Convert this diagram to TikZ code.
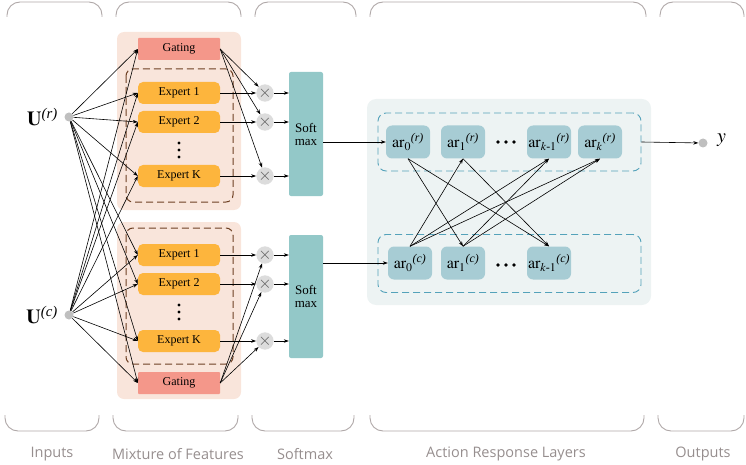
\documentclass[tikz,border=0pt]{standalone}
\usepackage{amsmath}
\usepackage{mathptmx}
\usepackage{fontspec}
\setmainfont{Liberation Serif}
\setsansfont{Open Sans}
\usetikzlibrary{arrows.meta,positioning}

\definecolor{peach}{RGB}{249,229,219}
\definecolor{gatecol}{RGB}{244,151,138}
\definecolor{expcol}{RGB}{253,181,61}
\definecolor{dashbrown}{RGB}{110,64,35}
\definecolor{multcol}{RGB}{220,220,220}
\definecolor{softcol}{RGB}{147,200,200}
\definecolor{arbg}{RGB}{237,243,243}
\definecolor{arcol}{RGB}{167,204,212}
\definecolor{tealdash}{RGB}{84,162,186}
\definecolor{bracecol}{RGB}{175,168,168}
\definecolor{captcol}{RGB}{150,142,142}

\newcommand{\supl}[1]{\text{\itshape(#1)}}

\tikzset{
  box/.style={minimum width=82pt, minimum height=22pt, inner sep=0pt,
    font=\fontsize{12}{13}\selectfont},
  gate/.style={box, fill=gatecol, rounded corners=1pt},
  expert/.style={box, fill=expcol, rounded corners=5pt},
  mult/.style={circle, fill=multcol, minimum size=17pt, inner sep=0pt,
    text=black!65, font=\fontsize{17}{17}\selectfont},
  soft/.style={fill=softcol, rounded corners=2pt, minimum width=34pt,
    inner sep=0pt, align=center, font=\fontsize{13}{13}\selectfont},
  arbox/.style={fill=arcol, rounded corners=6pt, minimum width=44pt,
    minimum height=33pt, inner sep=0pt, font=\fontsize{16}{16}\selectfont},
  ball/.style={circle, fill=black!25, minimum size=9pt, inner sep=0pt},
  frame/.style={draw=tealdash, line width=0.9pt, dash pattern=on 7pt off 4pt,
    rounded corners=8pt, minimum width=263pt, minimum height=58pt},
  link/.style={-{Stealth[length=5pt,width=3.5pt]}, line width=0.6pt},
  brace/.style={draw=bracecol, line width=0.9pt, rounded corners=13pt},
  caption/.style={font=\sffamily\fontsize{14.5}{15}\selectfont, text=captcol},
}

\begin{document}
\begin{tikzpicture}[x=1pt, y=-1pt]
  \useasboundingbox (0,0) rectangle (746,465);

  % brackets on top and bottom
  \foreach \l/\r in {7/102, 116/241, 255/356, 370/646, 660/744}
    \draw[brace] (\l,17) -- (\l,2) -- (\r,2) -- (\r,17);
  \foreach \l/\r in {5/99, 113/238, 252/354, 370/644, 658/744}
    \draw[brace] (\l,415) -- (\l,431) -- (\r,431) -- (\r,415);
  \node[caption] (capin)  at (52,454)  {Inputs};
  \node[caption] (capmof) at (178,454) {Mixture of Features};
  \node[caption] (capsm)  at (305,454) {Softmax};
  \node[caption] (capar)  at (506,454) {Action Response Layers};
  \node[caption] (capout) at (703,454) {Outputs};

  % mixture of features blocks
  \fill[peach, rounded corners=7pt] (117,32) rectangle (241,210);
  \fill[peach, rounded corners=7pt] (117,222) rectangle (241,399);
  \draw[dashbrown, line width=1pt, dash pattern=on 7pt off 4pt, rounded corners=7pt]
    (126,69) rectangle (233,202);
  \draw[dashbrown, line width=1pt, dash pattern=on 7pt off 4pt, rounded corners=7pt]
    (126,228) rectangle (233,364);

  \node[gate]   (Gr)  at (179,49)  {Gating};
  \node[expert] (Er1) at (179,93)  {Expert 1};
  \node[expert] (Er2) at (179,122) {Expert 2};
  \node[expert] (ErK) at (179,176) {Expert K};
  \node[expert] (Ec1) at (179,255) {Expert 1};
  \node[expert] (Ec2) at (179,284) {Expert 2};
  \node[expert] (EcK) at (179,341) {Expert K};
  \node[gate]   (Gc)  at (179,383) {Gating};
  \foreach \d in {-7,0,7} {
    \fill (179,150+\d) circle (1.7pt);
    \fill (179,312+\d) circle (1.7pt);
  }

  % inputs
  \node[ball] (Ur) at (69,117) {};
  \node[ball] (Uc) at (69,315) {};
  \node[left=3pt of Ur, font=\fontsize{20}{20}\selectfont] (Urlab) {$\mathbf{U}^{\supl{r}}$};
  \node[left=3pt of Uc, font=\fontsize{20}{20}\selectfont] (Uclab) {$\mathbf{U}^{\supl{c}}$};
  \foreach \t in {Gr,Er1,Er2,ErK,Ec1,Ec2,EcK,Gc} {
    \draw[link] (Ur) -- (\t.west);
    \draw[link] (Uc) -- (\t.west);
  }

  % products and softmax
  \node[soft, minimum height=124pt] (Sr) at (306,134) {Soft\\max};
  \node[soft, minimum height=123pt] (Sc) at (306,296.5) {Soft\\max};
  \node[mult] (Xr1) at (265,93)  {$\times$};
  \node[mult] (Xr2) at (265,122) {$\times$};
  \node[mult] (XrK) at (265,176) {$\times$};
  \node[mult] (Xc1) at (265,255) {$\times$};
  \node[mult] (Xc2) at (265,284) {$\times$};
  \node[mult] (XcK) at (265,341) {$\times$};
  \foreach \m in {1,2,K} {
    \draw[link] (Gr.east) -- (Xr\m);
    \draw[link] (Er\m) -- (Xr\m);
    \draw[link] (Xr\m) -- (Xr\m -| Sr.west);
    \draw[link] (Gc.east) -- (Xc\m);
    \draw[link] (Ec\m) -- (Xc\m);
    \draw[link] (Xc\m) -- (Xc\m -| Sc.west);
  }

  % action response layers
  \fill[arbg, rounded corners=9pt] (367,99) rectangle (651,305);
  \node[frame] (Fr) at (509.5,142) {};
  \node[frame] (Fc) at (509.5,263.5) {};
  \node[arbox] (ar0r)   at (408,142) {${\mathrm{ar}_0}^{\supl{r}}$};
  \node[arbox] (ar1r)   at (463,142) {${\mathrm{ar}_1}^{\supl{r}}$};
  \node[arbox] (arkm1r) at (549,142) {${\mathrm{ar}_{k\text{-}1}}^{\supl{r}}$};
  \node[arbox] (arkr)   at (600,142) {${\mathrm{ar}_k}^{\supl{r}}$};
  \node[arbox] (ar0c)   at (410,263) {${\mathrm{ar}_0}^{\supl{c}}$};
  \node[arbox] (ar1c)   at (463,263) {${\mathrm{ar}_1}^{\supl{c}}$};
  \node[arbox] (arkm1c) at (549,263) {${\mathrm{ar}_{k\text{-}1}}^{\supl{c}}$};
  \foreach \d in {-8,0,8} {
    \fill (506+\d,142) circle (1.8pt);
    \fill (506+\d,265) circle (1.8pt);
  }
  \draw[link] (Sr.east |- ar0r.west) -- (ar0r.west);
  \draw[link] (Sc.east |- ar0c.west) -- (ar0c.west);
  \foreach \a/\b in {ar0r/ar1c, ar0r/arkm1c, ar1r/arkm1c}
    \draw[link] (\a.south) -- (\b.north);
  \foreach \a/\b in {ar0c/ar1r, ar0c/arkm1r, ar0c/arkr, ar1c/arkm1r, ar1c/arkr}
    \draw[link] (\a.north) -- (\b.south);

  % output
  \node[ball] (Y) at (703,143) {};
  \node[right=6pt of Y, yshift=3pt, font=\fontsize{20}{20}\selectfont] (Ylab) {$y$};
  \draw[link] (Fr.east) -- (Y);
\end{tikzpicture}
\end{document}
